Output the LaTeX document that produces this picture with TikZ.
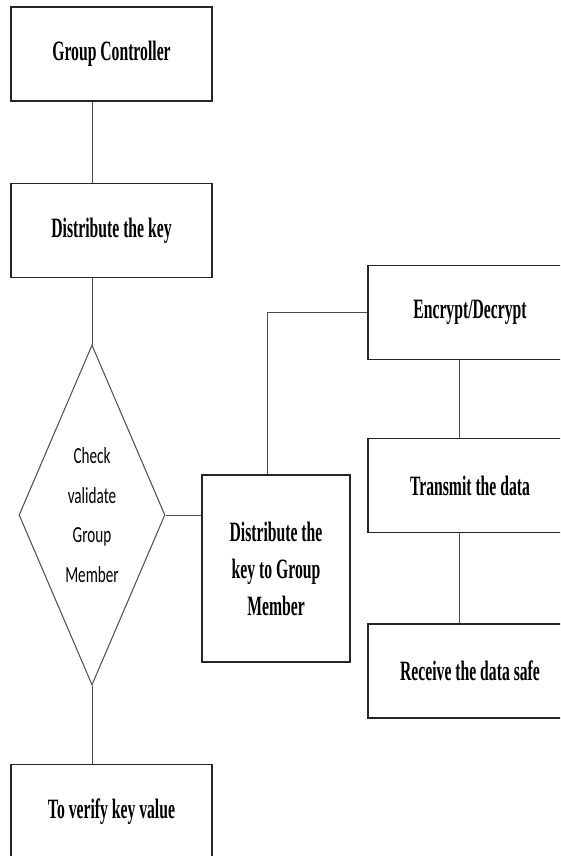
\documentclass[tikz,border=0pt]{standalone}
\usepackage{fontspec}
\usepackage{tikz}
\usetikzlibrary{positioning,shapes.geometric,calc}
\newfontfamily\kdserif[FakeStretch=0.56]{Liberation Serif}
\newfontfamily\kdsans[FakeStretch=0.66]{Carlito}
\tikzset{
  kdbox/.style={draw=black!85, rectangle, line width=1.3pt, minimum width=201pt, minimum height=94pt, inner sep=0pt, align=center, font=\kdserif\bfseries\fontsize{28}{37}\selectfont},
  kdchoice/.style={draw=black!70, diamond, aspect=0.43, line width=1pt, minimum width=146pt, minimum height=340pt, inner sep=0pt, align=center, font=\kdsans\fontsize{23}{39.5}\selectfont},
  kdline/.style={draw=black!70, line width=1pt},
}

\begin{document}
\begin{tikzpicture}[x=1pt,y=-1pt]
  \fill[white] (0,0) rectangle (560,856);
  \clip (0,0) rectangle (560,856);

  % left column
  \node[kdbox] (ctrl) at (111.5,54) {Group Controller};
  \node[kdbox] (dist) at (111.5,230.5) {Distribute the key};
  \node[kdchoice] (check) at (92,515) {Check\\validate\\Group\\Member};
  \node[kdbox] (verify) at (111.5,811.5) {To verify key value};

  % member box and right column
  \node[kdbox, minimum width=148pt, minimum height=187pt] (member) at (276,568.5)
    {Distribute the\\key to Group\\Member};
  \node[kdbox, minimum width=204pt] (crypt) at (470,312.5) {Encrypt/Decrypt};
  \node[kdbox, minimum width=204pt] (send) at (470,485.5) {Transmit the data};
  \node[kdbox, minimum width=204pt] (recv) at (470,671) {Receive the data safe};

  \draw[kdline] (check.north |- ctrl.south) -- (check.north |- dist.north);
  \draw[kdline] (check.north |- dist.south) -- (check.north);
  \draw[kdline] (check.south) -- (check.south |- verify.north);
  \draw[kdline] (check.east) -- (check.east -| member.west);
  \draw[kdline] ([xshift=-9pt]member.north) |- (crypt.west);
  \draw[kdline] ([xshift=-11pt]crypt.south) -- ([xshift=-11pt]send.north);
  \draw[kdline] ([xshift=-11pt]send.south) -- ([xshift=-11pt]recv.north);
\end{tikzpicture}
\end{document}
